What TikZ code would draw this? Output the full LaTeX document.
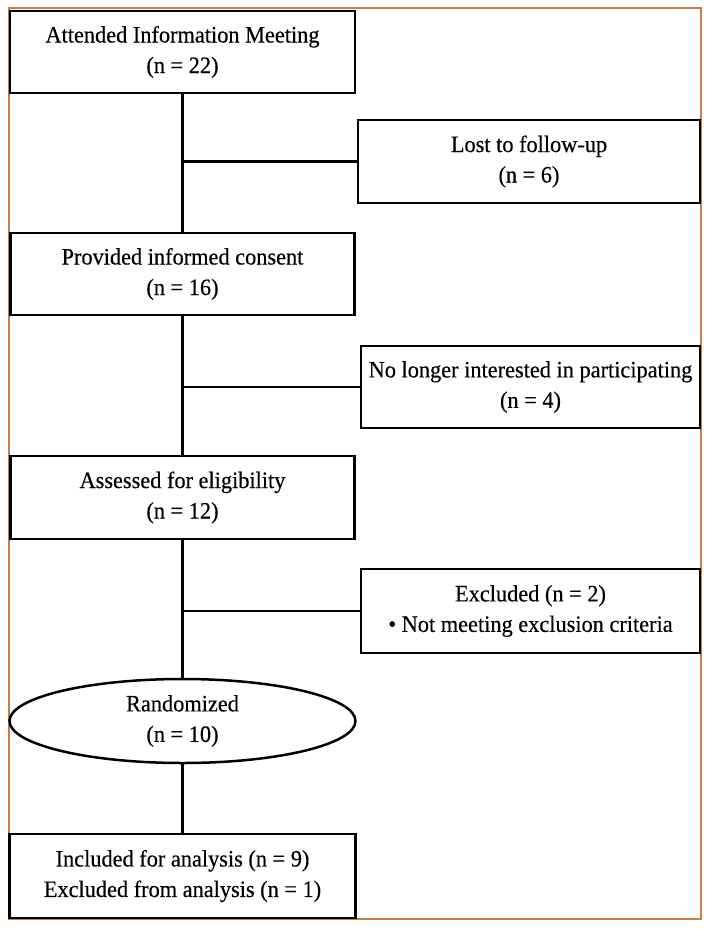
\documentclass[tikz,border=0pt]{standalone}
\usepackage{fontspec}
\setmainfont[FakeStretch=0.95,FakeBold=0.4]{Liberation Serif}
\usetikzlibrary{shapes.geometric}
\definecolor{frameor}{RGB}{200,125,70}
\tikzset{
  flowbox/.style={draw=black, line width=2.5pt, rectangle, inner sep=0pt, align=center,
    font=\fontsize{23.5}{30.5}\selectfont},
  flowoval/.style={draw=black, line width=2.5pt, ellipse, inner sep=0pt, align=center,
    font=\fontsize{23.5}{30.5}\selectfont},
  conn/.style={draw=black, line width=2.5pt}
}
\begin{document}
\begin{tikzpicture}[x=1pt,y=-1pt]
\useasboundingbox (0,0) rectangle (709,929);
\draw[frameor, line width=1.2pt] (9,8) rectangle (701,919);

\node[flowbox, minimum width=345pt, minimum height=82pt] (b1) at (182.5,52) {Attended Information Meeting\\(n = 22)};
\node[flowbox, minimum width=342pt, minimum height=83pt] (lost) at (529,161.5) {Lost to follow-up\\(n = 6)};
\node[flowbox, minimum width=344pt, minimum height=82pt] (b2) at (182.5,274) {Provided informed consent\\(n = 16)};
\node[flowbox, minimum width=339pt, minimum height=82pt] (nol) at (530.5,387) {No longer interested in participating\\(n = 4)};
\node[flowbox, minimum width=344pt, minimum height=83pt] (b3) at (182.5,497.5) {Assessed for eligibility\\(n = 12)};
\node[flowbox, minimum width=339pt, minimum height=84pt] (excl) at (530.5,611) {Excluded (n = 2)\\• Not meeting exclusion criteria};
\node[flowoval, minimum width=346pt, minimum height=84pt] (rand) at (182.5,721) {Randomized\\(n = 10)};
\node[flowbox, minimum width=346pt, minimum height=84pt] (b4) at (182.5,876) {Included for analysis (n = 9)\\Excluded from analysis (n = 1)};

\draw[conn] (b1) -- (b2);
\draw[conn] (b2) -- (b3);
\draw[conn] (b3) -- (rand);
\draw[conn] (rand) -- (b4);
\draw[conn] (lost.west) -- (lost.west -| b1.south);
\draw[conn] (nol.west) -- (nol.west -| b2.south);
\draw[conn] (excl.west) -- (excl.west -| b3.south);
\end{tikzpicture}
\end{document}
